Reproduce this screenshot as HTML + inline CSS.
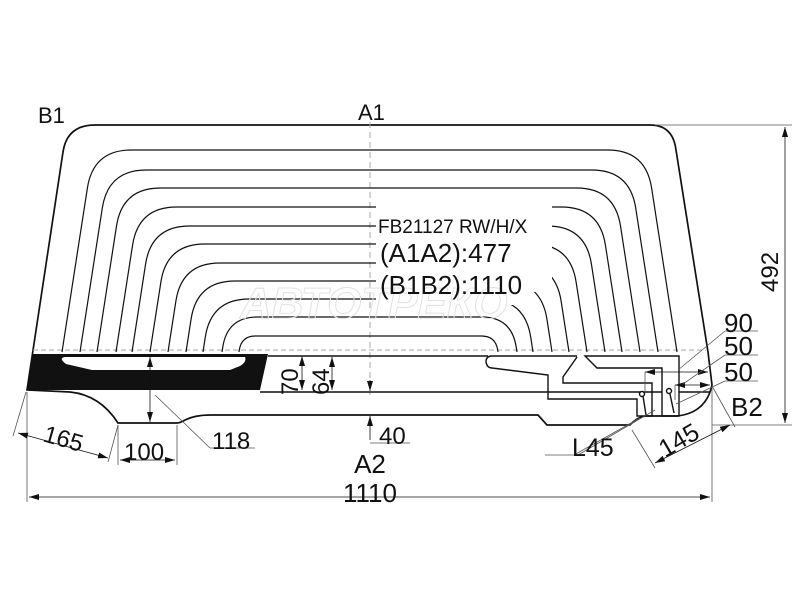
<!DOCTYPE html>
<html><head><meta charset="utf-8"><style>
html,body{margin:0;padding:0;background:#fff;width:800px;height:600px;overflow:hidden}
text{font-family:"Liberation Sans",sans-serif;fill:#111}
</style></head><body>
<svg width="800" height="600" viewBox="0 0 800 600" xmlns="http://www.w3.org/2000/svg">
<defs>
<marker id="ar" viewBox="0 0 10 6" refX="10" refY="3" markerWidth="10" markerHeight="6" orient="auto-start-reverse" markerUnits="userSpaceOnUse"><path d="M0 0L10 3L0 6z" fill="#111"/></marker>
</defs>
<path d="M27 390 L63 152 Q67 125 95 125 L650 125 Q673 125 676 150 L708 352 L712 385 Q706 413 677 416 L645 416 Q636 418 630 425 L547 425 L538 415 L210 415 Q195 415 185 420 Q180 423 177 423 L118 423 Q100 395 70 392 Z" fill="none" stroke="#111" stroke-width="1.7"/>
<line x1="33" y1="350" x2="706" y2="350" stroke="#aaa" stroke-width="1" stroke-dasharray="5,3"/>
<line x1="370" y1="122" x2="370" y2="395" stroke="#aaa" stroke-width="1" stroke-dasharray="6,4"/>
<g fill="none" stroke="#111" stroke-width="1.2">
<path d="M62 352L87.4 188Q93.3 150 131.3 150L607.7 150Q645.7 150 651.6 188L677 352"/>
<path d="M80 352L102.3 208Q108.2 170 146.2 170L591.8 170Q629.8 170 635.7 208L658 352"/>
<path d="M97 352L116.5 226Q122.4 188 160.4 188L576.6 188Q614.6 188 620.5 226L640 352"/>
<path d="M116 352L132.6 245Q138.5 207 176.5 207L561.5 207Q599.5 207 605.4 245L622 352"/>
<path d="M132 352L145.6 264Q151.5 226 189.5 226L547.5 226Q585.5 226 591.4 264L605 352"/>
<path d="M150 352L160.9 282Q166.7 244 204.7 244L532.3 244Q570.3 244 576.1 282L587 352"/>
<path d="M168 352L175.9 301Q181.8 263 219.8 263L517.2 263Q555.2 263 561.1 301L569 352"/>
<path d="M186 352L191.1 319Q197 281 235 281L503 281Q541 281 546.9 319L552 352"/>
<path d="M203 352L205.3 337Q211.2 299 249.2 299L486.8 299Q524.8 299 530.7 337L533 352"/>
<path d="M222 352L222.8 347Q227.4 317 257.4 317L481.6 317Q511.6 317 516.2 347L517 352"/>
<path d="M239 352L239.3 350Q241.5 336 255.5 336L481.5 336Q495.5 336 497.7 350L498 352"/>
</g>
<rect x="376" y="200" width="176" height="92" fill="#fff"/>
<rect x="376" y="292" width="137" height="13" fill="#fff"/>
<text x="240" y="318" font-size="44" font-style="italic" font-weight="bold" stroke="#e2e2e2" stroke-width="1" style="fill:none">АВТОТРЕКО</text>
<text x="378" y="233" font-size="19">FB21127 RW/H/X</text>
<text x="380" y="262" font-size="26">(A1A2):477</text>
<text x="380" y="294" font-size="26">(B1B2):1110</text>
<text x="38" y="123" font-size="22">B1</text>
<text x="358" y="120" font-size="22">A1</text>
<path d="M33 354 L268 354 L260 390 L27 390 Z" fill="#111"/>
<path d="M65 357 L245 357 Q247 362 240 366 L230 370 L92 370 L66 364 Q58 358 65 357Z" fill="#fff"/>
<g fill="none" stroke="#111" stroke-width="1.4">
<line x1="260" y1="392" x2="662" y2="392"/>
<line x1="679" y1="392" x2="710" y2="392"/>
<line x1="268" y1="356" x2="488" y2="356"/>
<path d="M577 356 L492 356 Q486 356 486 362 Q487 368 492 368 L548 375 L548 399 L637 399 L637 416 L652 416 L652 383 L563 383 L563 377 L577 357"/>
<path d="M585 356 L679 356 L679 416 L662 416 L662 368 L597 368 Z" />
<line x1="643" y1="396" x2="646" y2="415"/><circle cx="642" cy="394" r="2.5" fill="#fff"/>
<line x1="670" y1="394" x2="674" y2="413"/><circle cx="669" cy="391" r="2.5" fill="#fff"/>
</g>
<g stroke="#555" stroke-width="0.8" fill="none">
<line x1="785" y1="127" x2="785" y2="423" marker-start="url(#ar)" marker-end="url(#ar)" stroke="#111"/>
<line x1="655" y1="125" x2="792" y2="125"/>
<line x1="712" y1="425" x2="792" y2="425"/>
<line x1="27" y1="392" x2="27" y2="502"/>
<line x1="712" y1="388" x2="712" y2="502"/>
<line x1="29" y1="497" x2="710" y2="497" marker-start="url(#ar)" marker-end="url(#ar)" stroke="#111"/>
<line x1="302" y1="356" x2="302" y2="390" marker-start="url(#ar)" marker-end="url(#ar)" stroke="#111"/>
<line x1="332" y1="357" x2="332" y2="390" marker-start="url(#ar)" marker-end="url(#ar)" stroke="#111"/>
<line x1="150" y1="357" x2="150" y2="422" marker-start="url(#ar)" marker-end="url(#ar)" stroke="#111"/>
<line x1="370" y1="380" x2="370" y2="391" marker-end="url(#ar)" stroke="#111"/>
<line x1="370" y1="440" x2="370" y2="416" marker-end="url(#ar)" stroke="#111"/>
<line x1="370" y1="443" x2="410" y2="443"/>
<line x1="155" y1="395" x2="210" y2="448"/><line x1="210" y1="448" x2="255" y2="448"/>
<line x1="118" y1="425" x2="118" y2="465"/><line x1="177" y1="425" x2="177" y2="465"/>
<line x1="120" y1="460" x2="175" y2="460" marker-start="url(#ar)" marker-end="url(#ar)" stroke="#111"/>
<line x1="26" y1="392" x2="13" y2="436"/><line x1="118" y1="425" x2="108" y2="462"/>
<line x1="18" y1="433" x2="108" y2="458" marker-start="url(#ar)" marker-end="url(#ar)" stroke="#111"/>
<line x1="645" y1="372" x2="708" y2="372" marker-start="url(#ar)" marker-end="url(#ar)" stroke="#111"/>
<line x1="675" y1="385" x2="710" y2="385" marker-start="url(#ar)" marker-end="url(#ar)" stroke="#111"/>
<line x1="645" y1="372" x2="645" y2="392"/>
<line x1="675" y1="385" x2="675" y2="400"/>
<line x1="678" y1="370" x2="725" y2="331"/><line x1="725" y1="331" x2="758" y2="331"/>
<line x1="683" y1="384" x2="725" y2="355"/><line x1="725" y1="355" x2="758" y2="355"/>
<line x1="676" y1="404" x2="725" y2="381"/><line x1="725" y1="381" x2="758" y2="381"/>
<line x1="712" y1="386" x2="735" y2="427"/><line x1="632" y1="430" x2="655" y2="468"/>
<line x1="655" y1="463" x2="730" y2="425" marker-start="url(#ar)" marker-end="url(#ar)" stroke="#111"/>
<line x1="640" y1="418" x2="574" y2="455"/><line x1="655" y1="410" x2="578" y2="455"/>
<line x1="545" y1="455" x2="578" y2="455"/>
</g>
<text x="370" y="502" font-size="26" text-anchor="middle">1110</text>
<text x="370" y="473" font-size="26" text-anchor="middle">A2</text>
<text x="379" y="444" font-size="24">40</text>
<text x="212" y="449" font-size="24">118</text>
<text x="124" y="460" font-size="24">100</text>
<text transform="translate(42,441) rotate(16)" font-size="24">165</text>
<text transform="translate(298,395) rotate(-90)" font-size="24">70</text>
<text transform="translate(329,395) rotate(-90)" font-size="24">64</text>
<text transform="translate(778,292) rotate(-90)" font-size="24">492</text>
<text x="724" y="332" font-size="26">90</text>
<text x="724" y="355" font-size="26">50</text>
<text x="724" y="381" font-size="26">50</text>
<text x="731" y="416" font-size="26">B2</text>
<text x="572" y="456" font-size="25">L45</text>
<text transform="translate(665,458) rotate(-30)" font-size="25">145</text>
</svg>
</body></html>
